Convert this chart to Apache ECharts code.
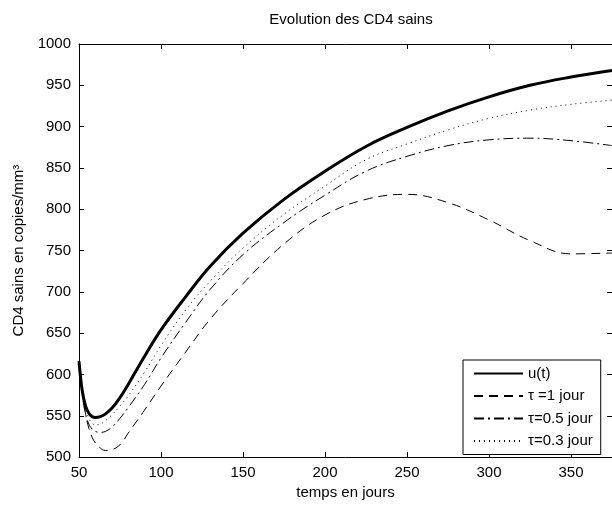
<!DOCTYPE html>
<html>
<head>
<meta charset="utf-8">
<script src="https://cdn.jsdelivr.net/npm/echarts@6/dist/echarts.min.js"></script>
<style>
  html, body { margin: 0; padding: 0; background: #fff; }
  #chart { width: 612px; height: 505px; }
</style>
</head>
<body>
<div id="chart"></div>
<script>
// temps en jours
const days = [50, 52, 54, 56, 58, 60, 63, 66, 70, 75, 80, 90, 100, 115, 130, 150, 175, 200, 225, 250, 275, 300, 325, 350, 375];
// CD4 sains, sans retard
const uValues   = [616, 580, 562, 553, 549, 548, 549, 552, 559, 572, 588, 622, 654, 694, 731, 771, 812, 846, 876, 899, 919, 936, 950, 960, 968];
// retard tau = 1 jour
const tau1      = [616, 578, 552, 535, 524, 517, 511, 508, 509, 515, 529, 557, 586, 627, 667, 710, 758, 793, 812, 818, 808, 787, 762, 746, 747];
// retard tau = 0.5 jour
const tau05     = [616, 575, 552, 540, 534, 531, 530, 531, 536, 547, 560, 588, 620, 663, 703, 745, 784, 817, 846, 864, 877, 884, 886, 883, 877];
// retard tau = 0.3 jour
const tau03     = [616, 578, 558, 547, 541, 539, 540, 544, 551, 562, 574, 603, 635, 678, 713, 753, 794, 828, 860, 879, 896, 910, 920, 927, 932];

const seriesNames = ['u(t)', 'τ =1 jour', 'τ=0.5 jour', 'τ=0.3 jour'];

const font = 'Liberation Sans, Arial, Helvetica, sans-serif';

const chart = echarts.init(document.getElementById('chart'));

function pairs(values) {
  return days.map((d, i) => [d, values[i]]);
}

function axisCommon(showLabel) {
  return {
    axisLine: { show: true, onZero: false, lineStyle: { color: '#000', width: 1 } },
    axisTick: { show: true, inside: true, length: 5, lineStyle: { color: '#000' } },
    splitLine: { show: false },
    axisLabel: {
      show: showLabel,
      color: '#000',
      fontFamily: font,
      fontSize: 15,
      formatter: v => String(v)
    }
  };
}

const option = {
  backgroundColor: '#fff',
  animation: false,
  title: {
    text: 'Evolution des CD4 sains',
    left: 346,
    top: 7,
    textAlign: 'center',
    textStyle: { color: '#000', fontFamily: font, fontSize: 15, fontWeight: 'normal' }
  },
  grid: { left: 79, right: 0, top: 44, bottom: 43 },
  legend: {
    data: seriesNames,
    orient: 'vertical',
    left: 463,
    top: 360,
    padding: [6, 8, 6, 10],
    itemWidth: 49,
    itemHeight: 14,
    itemGap: 7.5,
    borderColor: '#000',
    borderWidth: 1,
    backgroundColor: '#fff',
    itemStyle: { opacity: 0 },
    textStyle: { color: '#000', fontFamily: font, fontSize: 15, lineHeight: 15 }
  },
  xAxis: [
    Object.assign(axisCommon(true), {
      type: 'value',
      min: 50,
      max: 375,
      interval: 50,
      name: 'temps en jours',
      nameLocation: 'middle',
      nameGap: 22,
      nameTextStyle: { color: '#000', fontFamily: font, fontSize: 15 }
    }),
    Object.assign(axisCommon(false), {
      type: 'value',
      position: 'top',
      min: 50,
      max: 375,
      interval: 50
    })
  ],
  yAxis: [
    Object.assign(axisCommon(true), {
      type: 'value',
      min: 500,
      max: 1000,
      interval: 50,
      name: 'CD4 sains en copies/mm³',
      nameLocation: 'middle',
      nameGap: 46,
      nameTextStyle: { color: '#000', fontFamily: font, fontSize: 15 }
    }),
    Object.assign(axisCommon(false), {
      type: 'value',
      position: 'right',
      min: 500,
      max: 1000,
      interval: 50
    })
  ],
  series: [
    {
      name: seriesNames[0],
      type: 'line',
      data: pairs(uValues),
      smooth: 0.4,
      symbol: 'none',
      lineStyle: { color: '#000', width: 3 },
      itemStyle: { color: '#000' },
      z: 4
    },
    {
      name: seriesNames[1],
      type: 'line',
      data: pairs(tau1),
      smooth: 0.4,
      symbol: 'none',
      lineStyle: { color: '#000', width: 1, type: [9, 6] },
      itemStyle: { color: '#000' }
    },
    {
      name: seriesNames[2],
      type: 'line',
      data: pairs(tau05),
      smooth: 0.4,
      symbol: 'none',
      lineStyle: { color: '#000', width: 1, type: [10, 4, 2, 4] },
      itemStyle: { color: '#000' }
    },
    {
      name: seriesNames[3],
      type: 'line',
      data: pairs(tau03),
      smooth: 0.4,
      symbol: 'none',
      lineStyle: { color: '#000', width: 1, type: [1, 4] },
      itemStyle: { color: '#000' }
    }
  ]
};

option.xAxis[0].axisLabel.showMaxLabel = false;

chart.setOption(option);
</script>
</body>
</html>
